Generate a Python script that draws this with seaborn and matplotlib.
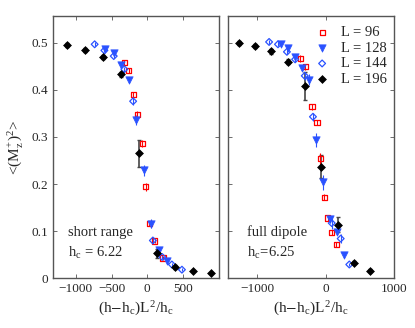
import numpy as np
import pandas as pd
import seaborn as sns
import matplotlib.pyplot as plt

# short range panel
sr_x96 = [-320, -258, -197, -141, -70, -18, 28, 103, 221]
sr_y96 = [0.459, 0.441, 0.390, 0.348, 0.286, 0.194, 0.116, 0.079, 0.043]
sr_e96 = [0.005, 0.005, 0.006, 0.007, 0.007, 0.008, 0.005, 0.005, 0.004]
sr_x128 = [-590, -469, -370, -258, -151, -46, 56, 160, 277]
sr_y128 = [0.488, 0.478, 0.454, 0.422, 0.336, 0.229, 0.116, 0.060, 0.037]
sr_e128 = [0.004, 0.004, 0.004, 0.004, 0.010, 0.012, 0.010, 0.005, 0.004]
sr_x144 = [-737, -600, -469, -320, -197, 80, 211, 347, 488]
sr_y144 = [0.497, 0.484, 0.472, 0.444, 0.376, 0.080, 0.045, 0.029, 0.018]
sr_e144 = [0.004, 0.004, 0.004, 0.005, 0.007, 0.005, 0.004, 0.003, 0.003]
sr_x196 = [-1122, -869, -615, -370, -117, 136, 385, 639, 892]
sr_y196 = [0.495, 0.485, 0.470, 0.433, 0.265, 0.053, 0.023, 0.015, 0.011]
sr_e196 = [0.004, 0.004, 0.005, 0.005, 0.028, 0.010, 0.004, 0.003, 0.002]

# full dipole panel
fd_x96 = [-372, -294, -198, -126, -77, -19, 33, 91, 155]
fd_y96 = [0.467, 0.449, 0.364, 0.331, 0.255, 0.172, 0.128, 0.097, 0.072]
fd_e96 = [0.007, 0.006, 0.006, 0.006, 0.012, 0.006, 0.006, 0.005, 0.005]
fd_x128 = [-657, -551, -445, -338, -246, -135, -43, 68, 164, 275]
fd_y128 = [0.497, 0.490, 0.470, 0.447, 0.422, 0.293, 0.204, 0.126, 0.098, 0.050]
fd_e128 = [0.004, 0.004, 0.004, 0.005, 0.012, 0.015, 0.016, 0.008, 0.006, 0.004]
fd_x144 = [-826, -696, -565, -445, -304, -184, 91, 222, 348]
fd_y144 = [0.502, 0.497, 0.481, 0.465, 0.430, 0.343, 0.117, 0.084, 0.029]
fd_e144 = [0.004, 0.004, 0.005, 0.005, 0.008, 0.008, 0.012, 0.010, 0.004]
fd_x196 = [-1261, -1039, -797, -551, -300, -68, 178, 416, 652]
fd_y196 = [0.500, 0.494, 0.482, 0.460, 0.408, 0.237, 0.114, 0.033, 0.016]
fd_e196 = [0.004, 0.004, 0.005, 0.005, 0.030, 0.025, 0.015, 0.004, 0.003]

red = '#ff0000'
blue = '#2a52ff'

sns.set_style('ticks')
plt.rcParams['font.family'] = ['Liberation Serif', 'DejaVu Serif']
plt.rcParams['mathtext.fontset'] = 'stix'

fig = plt.figure(figsize=(4.15, 3.28), dpi=100)
ax1 = fig.add_axes([0.128, 0.152, 0.400, 0.799])
ax2 = fig.add_axes([0.549, 0.152, 0.400, 0.799])


def draw(ax, x96, y96, e96, x128, y128, e128, x144, y144, e144, x196, y196, e196):
    ax.errorbar(x96, y96, yerr=e96, fmt='none', ecolor=red, lw=0.8, capsize=0, zorder=2)
    ax.errorbar(x128, y128, yerr=e128, fmt='none', ecolor=blue, lw=0.8, capsize=0, zorder=2)
    ax.errorbar(x144, y144, yerr=e144, fmt='none', ecolor=blue, lw=0.8, capsize=0, zorder=2)
    ax.errorbar(x196, y196, yerr=e196, fmt='none', ecolor='#444444', lw=1.2, capsize=1.5, zorder=1)
    sns.scatterplot(x=x96, y=y96, ax=ax, marker='s', s=14, color=red,
                    facecolor='none', edgecolor=red, linewidth=0.9, label='L = 96', zorder=3)
    sns.scatterplot(x=x128, y=y128, ax=ax, marker='v', s=28, color=blue,
                    edgecolor=blue, linewidth=0.5, label='L = 128', zorder=3)
    sns.scatterplot(x=x144, y=y144, ax=ax, marker='D', s=12, color=blue,
                    facecolor='none', edgecolor=blue, linewidth=0.9, label='L = 144', zorder=3)
    sns.scatterplot(x=x196, y=y196, ax=ax, marker='D', s=16, color='black',
                    edgecolor='black', linewidth=0.5, label='L = 196', zorder=4)
    ax.set_ylim(0, 0.557)
    ax.set_yticks([0, 0.1, 0.2, 0.3, 0.4, 0.5])
    ax.tick_params(direction='in', top=True, right=True, labelsize=9.5,
                   length=3, width=0.6, color='#555555')
    for sp in ax.spines.values():
        sp.set_color('#555555')
        sp.set_linewidth(1.0)
    ax.set_xlabel('(h$-$h$_\\mathregular{c}$)L$^\\mathregular{2}$/h$_\\mathregular{c}$', fontsize=11, labelpad=2)


draw(ax1, sr_x96, sr_y96, sr_e96, sr_x128, sr_y128, sr_e128,
     sr_x144, sr_y144, sr_e144, sr_x196, sr_y196, sr_e196)
draw(ax2, fd_x96, fd_y96, fd_e96, fd_x128, fd_y128, fd_e128,
     fd_x144, fd_y144, fd_e144, fd_x196, fd_y196, fd_e196)

ax1.set_xlim(-1320, 1010)
ax1.set_xticks([-1000, -500, 0, 500])
ax1.set_yticklabels(['0', '0.1', '0.2', '0.3', '0.4', '0.5'])
ax1.set_ylabel('<(M$_\\mathregular{z}^\\mathregular{+}$)$^\\mathregular{2}$>', fontsize=11, labelpad=4)
ax1.get_legend().remove()

ax2.set_xlim(-1430, 1000)
ax2.set_xticks([-1000, 0, 1000])
ax2.set_yticklabels([])
ax2.set_ylabel('')
ax2.legend(loc='upper right', bbox_to_anchor=(1.02, 1.0), frameon=False, fontsize=10.5,
           handletextpad=0.3, labelspacing=0.15, borderaxespad=0.3)

ax1.text(0.09, 0.176, 'short range', transform=ax1.transAxes, fontsize=10.5, va='center')
ax1.text(0.09, 0.095, 'h$_\\mathregular{c}$ = 6.22', transform=ax1.transAxes, fontsize=10.5, va='center')
ax2.text(0.115, 0.176, 'full dipole', transform=ax2.transAxes, fontsize=10.5, va='center')
ax2.text(0.115, 0.095, 'h$_\\mathregular{c}$=6.25', transform=ax2.transAxes, fontsize=10.5, va='center')

plt.savefig('out.png', dpi=100)
